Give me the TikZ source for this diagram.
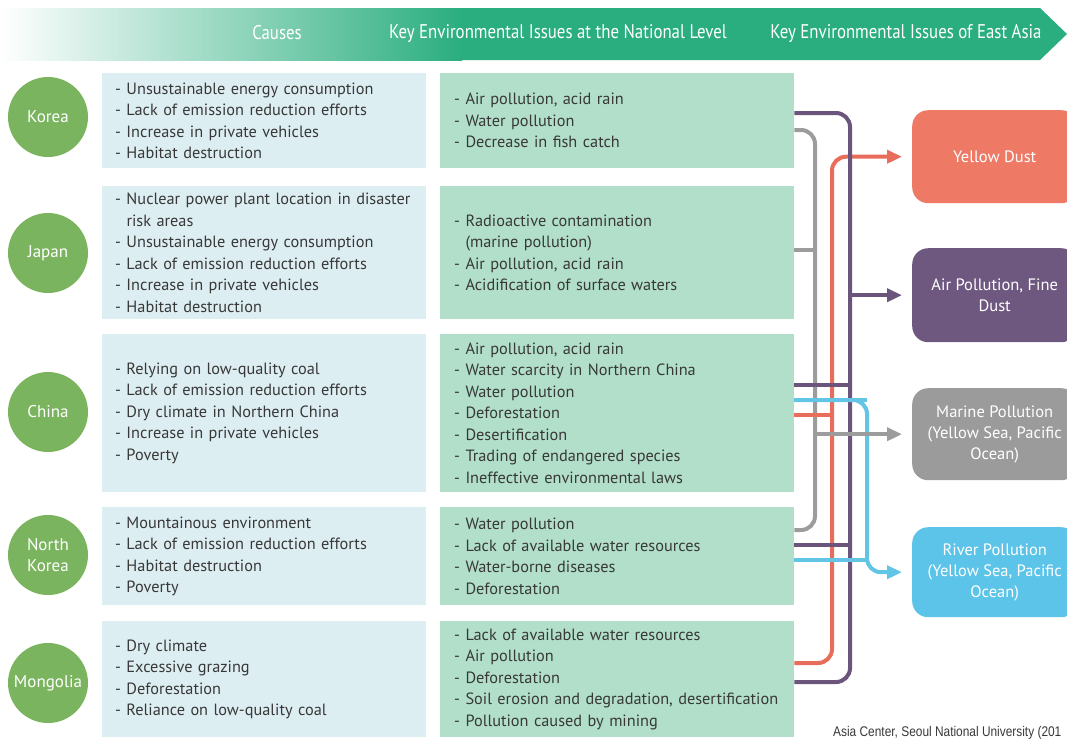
\documentclass[tikz,border=0pt]{standalone}
\usepackage{fontspec}
\setmainfont{PT Sans}
\newfontfamily\hdrfont[FakeStretch=0.85]{PT Sans}
\newfontfamily\srcfont[FakeStretch=0.85]{Liberation Sans}
\usetikzlibrary{arrows.meta,positioning}

\definecolor{hdrgreen}{HTML}{2AAE7F}
\definecolor{cgreen}{HTML}{7BB45E}
\definecolor{causebg}{HTML}{DDEEF3}
\definecolor{issuebg}{HTML}{B2DFCA}
\definecolor{txtgray}{HTML}{383838}
\definecolor{purpc}{HTML}{6B557C}
\definecolor{grayc}{HTML}{9C9C9C}
\definecolor{redc}{HTML}{E86D5B}
\definecolor{bluec}{HTML}{62C5E6}
\definecolor{ydbox}{HTML}{EE7A66}
\definecolor{apbox}{HTML}{6E587F}
\definecolor{mpbox}{HTML}{9B9B9B}
\definecolor{rpbox}{HTML}{5CC4E8}

\begin{document}
\begin{tikzpicture}[x=1pt, y=-1pt,
    country/.style={circle, fill=cgreen, minimum size=80pt, inner sep=0pt, text=white, align=center, font=\fontsize{17}{21}\selectfont},
    cause/.style={anchor=north west, fill=causebg, text width=298pt, inner xsep=13pt, align=left, text=txtgray, font=\fontsize{16.3}{21.5}\selectfont},
    issue/.style={cause, fill=issuebg, text width=326pt, inner xsep=14pt},
    target/.style={anchor=north west, rounded corners=16pt, minimum width=165pt, text=white, align=center, font=\fontsize{16.5}{21}\selectfont},
    hdr/.style={text=white, font=\hdrfont\fontsize{19.8}{22}\selectfont},
    link/.style={line width=4pt, rounded corners=14pt},
    tip/.style={-{Triangle[length=15pt,width=13pt]}}]
    \clip (0,0) rectangle (1067,740);

    % Header band
    \shade[left color=white, right color=hdrgreen] (0,8) rectangle (462,60);
    \fill[hdrgreen] (460,8) -- (1040,8) -- (1067,34) -- (1040,60) -- (460,60) -- cycle;
    \node[hdr] (hdr-causes) at (277,33) {Causes};
    \node[hdr] (hdr-nat) at (558,33) {Key Environmental Issues at the National Level};
    \node[hdr] (hdr-ea) at (906,33) {Key Environmental Issues of East Asia};

    % Countries
    \node[country] (kor) at (48,117) {Korea};
    \node[country] (jpn) at (48,253) {Japan};
    \node[country] (chn) at (48,412) {China};
    \node[country] (nk) at (48,555) {North\\Korea};
    \node[country] (mon) at (48,683) {Mongolia};

    % Causes
    \node[cause, minimum height=95pt] (kor-cause) at (102,73) {- Unsustainable energy consumption\\- Lack of emission reduction efforts\\- Increase in private vehicles\\- Habitat destruction};
    \node[cause, minimum height=133pt] (jpn-cause) at (102,186) {- Nuclear power plant location in disaster\\\phantom{- }risk areas\\- Unsustainable energy consumption\\- Lack of emission reduction efforts\\- Increase in private vehicles\\- Habitat destruction};
    \node[cause, minimum height=158pt] (chn-cause) at (102,334) {- Relying on low-quality coal\\- Lack of emission reduction efforts\\- Dry climate in Northern China\\- Increase in private vehicles\\- Poverty};
    \node[cause, minimum height=98pt] (nk-cause) at (102,507) {- Mountainous environment\\- Lack of emission reduction efforts\\- Habitat destruction\\- Poverty};
    \node[cause, minimum height=116pt] (mon-cause) at (102,621) {- Dry climate\\- Excessive grazing\\- Deforestation\\- Reliance on low-quality coal};

    % National issues
    \node[issue, minimum height=95pt] (kor-iss) at (440,73) {- Air pollution, acid rain\\- Water pollution\\- Decrease in fish catch};
    \node[issue, minimum height=133pt] (jpn-iss) at (440,186) {- Radioactive contamination\\\phantom{- }(marine pollution)\\- Air pollution, acid rain\\- Acidification of surface waters};
    \node[issue, minimum height=158pt] (chn-iss) at (440,334) {- Air pollution, acid rain\\- Water scarcity in Northern China\\- Water pollution\\- Deforestation\\- Desertification\\- Trading of endangered species\\- Ineffective environmental laws};
    \node[issue, minimum height=98pt] (nk-iss) at (440,507) {- Water pollution\\- Lack of available water resources\\- Water-borne diseases\\- Deforestation};
    \node[issue, minimum height=116pt] (mon-iss) at (440,621) {- Lack of available water resources\\- Air pollution\\- Deforestation\\- Soil erosion and degradation, desertification\\- Pollution caused by mining};

    % East Asia issues
    \node[target, fill=ydbox, minimum height=93pt] (ydust) at (912,110) {Yellow Dust};
    \node[target, fill=apbox, minimum height=94pt] (apfd) at (912,248) {Air Pollution, Fine\\Dust};
    \node[target, fill=mpbox, minimum height=92pt] (marine) at (912,388) {Marine Pollution\\(Yellow Sea, Pacific\\Ocean)};
    \node[target, fill=rpbox, minimum height=90pt] (river) at (912,527) {River Pollution\\(Yellow Sea, Pacific\\Ocean)};

    % Links
    \draw[link, grayc] (kor-iss.east |- 0,130) -- (815,130) -- (815,530) -- (nk-iss.east |- 0,530);
    \draw[link, redc, tip] (mon-iss.east |- 0,663) -- (832,663) -- (832,0 |- ydust.west) -- ([xshift=-10pt]ydust.west);
    \draw[link, purpc] (kor-iss.east |- 0,113) -- (850,113) -- (850,682) -- (mon-iss.east |- 0,682);
    \draw[link, bluec, tip] (chn-iss.east |- 0,400) -- (867,400) -- (867,0 |- river.west) -- ([xshift=-10pt]river.west);
    \draw[link, grayc] (jpn-iss.east |- 0,250) -- (815,250);
    \draw[link, purpc, tip] (850,0 |- apfd.west) -- ([xshift=-10pt]apfd.west);
    \draw[link, purpc] (chn-iss.east |- 0,385) -- (850,385);
    \draw[link, bluec] (chn-iss.east |- 0,400) -- (867,400);
    \draw[link, redc] (chn-iss.east |- 0,415) -- (832,415);
    \draw[link, grayc, tip] (815,0 |- marine.west) -- ([xshift=-10pt]marine.west);
    \draw[link, purpc] (nk-iss.east |- 0,545) -- (850,545);
    \draw[link, bluec] (nk-iss.east |- 0,560) -- (867,560);

    % Source
    \node[anchor=base west, inner sep=0pt, text=txtgray, font=\srcfont\fontsize{14}{16}\selectfont] (src) at (833,736) {Asia Center, Seoul National University (201};
\end{tikzpicture}
\end{document}
